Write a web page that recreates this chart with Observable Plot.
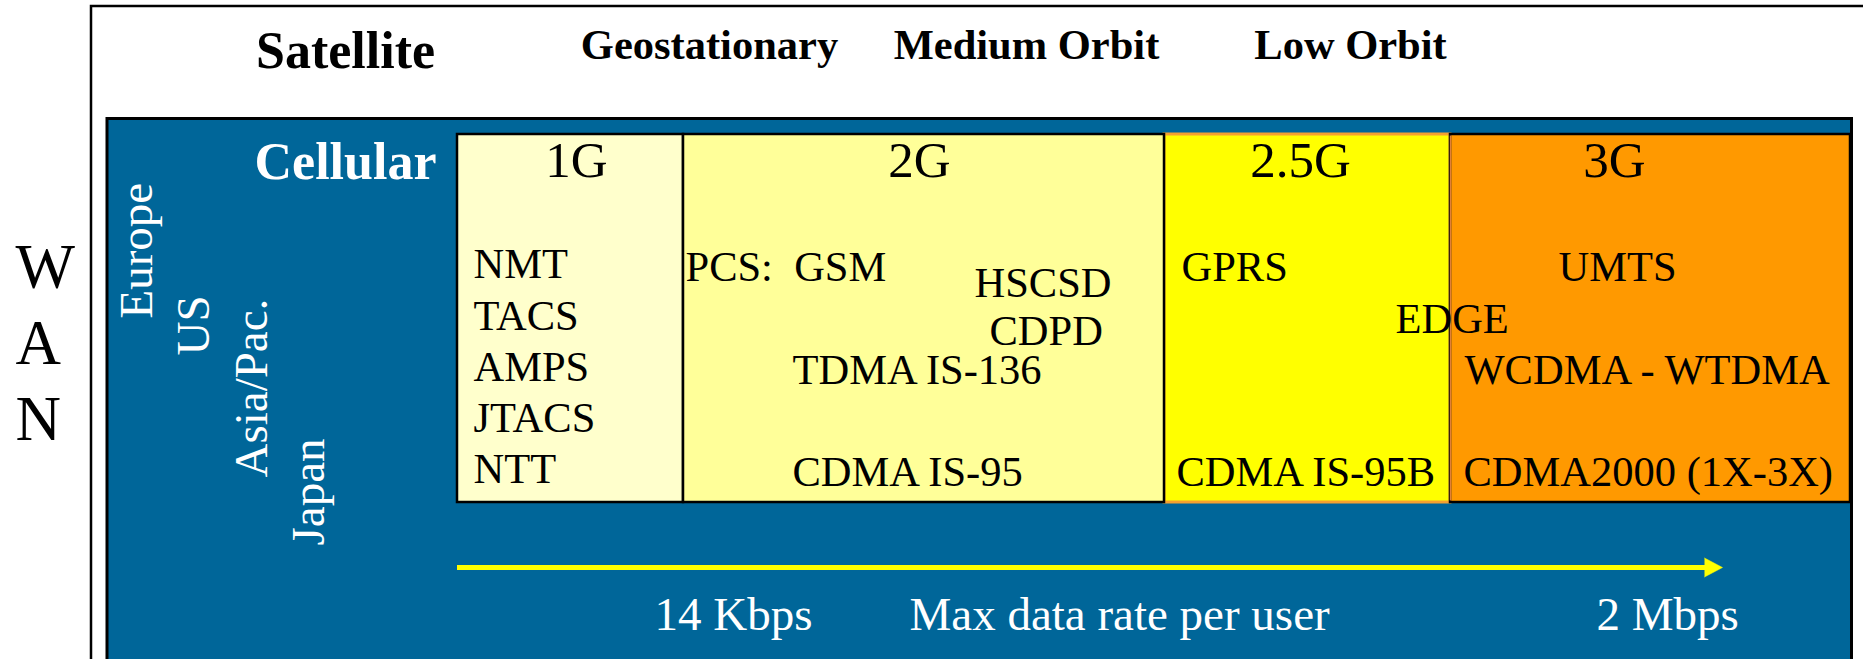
<!DOCTYPE html>
<html>
<head>
<meta charset="utf-8">
<script src="https://cdn.jsdelivr.net/npm/d3@7"></script>
<script src="https://cdn.jsdelivr.net/npm/@observablehq/plot@0.6"></script>
<style>
  html, body { margin: 0; padding: 0; background: #fff; overflow: hidden; }
  #chart svg { display: block; overflow: hidden; }
</style>
</head>
<body>
<div id="chart"></div>
<script>
// ---------- content ----------
const wanLetters = ["W", "A", "N"];
const satelliteHeading = ["Satellite"];
const orbitLabels = ["Geostationary", "Medium Orbit", "Low Orbit"];
const cellularHeading = ["Cellular"];
const regions = ["Europe", "US", "Asia/Pac.", "Japan"];
const generations = ["1G", "2G", "2.5G", "3G"];
const generationColors = ["#FFFFCC", "#FFFF99", "#FFFF00", "#FF9900"];
const technologies = [
  "NMT", "TACS", "AMPS", "JTACS", "NTT",
  "PCS:\u00a0 GSM", "HSCSD", "CDPD", "TDMA IS-136", "CDMA IS-95",
  "GPRS", "EDGE", "CDMA IS-95B",
  "UMTS", "WCDMA - WTDMA", "CDMA2000 (1X-3X)"
];
const techGeneration = [
  "1G", "1G", "1G", "1G", "1G",
  "2G", "2G", "2G", "2G", "2G",
  "2.5G", "2.5G", "2.5G",
  "3G", "3G", "3G"
];
const rateLabels = ["14 Kbps", "Max data rate per user", "2 Mbps"];

// ---------- layout (diagram coordinates, px) ----------
const W = 1863, H = 659;
const wanX = 15, wanBaselines = [287, 363, 439];
const satelliteX = [345], satelliteBaseline = 67;
const orbitX = [709, 1026, 1350], orbitBaseline = 58;
const cellularX = [345], cellularBaseline = 178;
const regionBaselineX = [151, 208, 266, 323];
const regionStartY = [318, 355, 477, 545];
const generationEdges = [457, 683, 1164, 1450, 1850];
const generationLabelX = [576, 919, 1300, 1614], generationLabelBaseline = 176;
const cellTop = 134, cellBottom = 502;
const techStartX = [473, 473, 473, 473, 473, 685, 974, 989, 792, 792, 1181, 1395, 1176, 1558, 1464, 1463];
const techBaseline = [277, 329, 380, 431, 482, 280, 296, 344, 383, 485, 280, 332, 485, 280, 383, 485];
const rateStartX = [654, 909, 1596], rateBaseline = 629;
const arrowStart = 457, arrowTip = 1722, arrowY = 567, arrowHeadLength = 18, arrowHeadHalf = 9.5;
const frameBox = [91, 6, 1905, 705];
const blueBox = [107, 118.5, 1851.5, 705];

const serif = "'Liberation Serif', 'Times New Roman', serif";

const cells = generations.map((g, i) => ({gen: g, x1: generationEdges[i], x2: generationEdges[i + 1]}));
const techData = technologies.map((t, i) => ({label: t, gen: techGeneration[i], x: techStartX[i], y: techBaseline[i]}));
const arrowHead = [
  {x: arrowTip - arrowHeadLength, y: arrowY - arrowHeadHalf},
  {x: arrowTip, y: arrowY},
  {x: arrowTip - arrowHeadLength, y: arrowY + arrowHeadHalf}
];

const chart = Plot.plot({
  width: W,
  height: H,
  margin: 0,
  x: {domain: [0, W], range: [0, W], axis: null},
  y: {domain: [0, H], range: [0, H], axis: null},
  color: {domain: generations, range: generationColors},
  style: {background: "#fff", overflow: "hidden"},
  marks: [
    // outer white frame
    Plot.rect([frameBox], {x1: d => d[0], y1: d => d[1], x2: d => d[2], y2: d => d[3], fill: "#fff", stroke: "#000", strokeWidth: 2.5}),
    // blue cellular panel
    Plot.rect([blueBox], {x1: d => d[0], y1: d => d[1], x2: d => d[2], y2: d => d[3], fill: "#006699", stroke: "#000", strokeWidth: 3}),
    // generation cells
    Plot.rect(cells.filter(d => d.gen === "2.5G"), {x1: "x1", x2: "x2", y1: () => cellTop, y2: () => cellBottom, fill: "gen", stroke: "#F5A030", strokeWidth: 3}),
    Plot.rect(cells.filter(d => d.gen !== "2.5G"), {x1: "x1", x2: "x2", y1: () => cellTop, y2: () => cellBottom, fill: "gen", stroke: "#000", strokeWidth: 2.5}),
    Plot.ruleX([generationEdges[3]], {y1: cellTop + 1.5, y2: cellBottom - 1.5, stroke: "#E0803A", strokeWidth: 1.5}),
    // WAN
    Plot.text(wanLetters, {x: () => wanX, y: (d, i) => wanBaselines[i], text: d => d, textAnchor: "start", lineAnchor: "bottom", fontSize: 63, fontFamily: serif, fill: "#000"}),
    // Satellite headings
    Plot.text(satelliteHeading, {x: (d, i) => satelliteX[i], y: () => satelliteBaseline, text: d => d, textAnchor: "middle", lineAnchor: "bottom", fontSize: 52, fontWeight: "bold", fontFamily: serif, fill: "#000"}),
    Plot.text(orbitLabels, {x: (d, i) => orbitX[i], y: () => orbitBaseline, text: d => d, textAnchor: "middle", lineAnchor: "bottom", fontSize: 42.5, fontWeight: "bold", fontFamily: serif, fill: "#000"}),
    // Cellular heading
    Plot.text(cellularHeading, {x: (d, i) => cellularX[i], y: () => cellularBaseline, text: d => d, textAnchor: "middle", lineAnchor: "bottom", fontSize: 52, fontWeight: "bold", fontFamily: serif, fill: "#fff"}),
    // regions (rotated)
    Plot.text(regions, {x: (d, i) => regionBaselineX[i], y: (d, i) => regionStartY[i], text: d => d, rotate: -90, textAnchor: "start", lineAnchor: "bottom", fontSize: 47, fontFamily: serif, fill: "#fff"}),
    // generation labels
    Plot.text(generations, {x: (d, i) => generationLabelX[i], y: () => generationLabelBaseline, text: d => d, textAnchor: "middle", lineAnchor: "bottom", fontSize: 51, fontFamily: serif, fill: "#000"}),
    // technologies
    Plot.text(techData, {x: "x", y: "y", text: "label", textAnchor: "start", lineAnchor: "bottom", fontSize: 42.5, fontFamily: serif, fill: "#000"}),
    // data-rate arrow
    Plot.ruleY([arrowY], {x1: arrowStart, x2: arrowTip - arrowHeadLength + 2, stroke: "#FFFF00", strokeWidth: 5}),
    Plot.line(arrowHead, {x: "x", y: "y", fill: "#FFFF00", stroke: "#FFFF00", strokeWidth: 0.5}),
    // rate labels
    Plot.text(rateLabels, {x: (d, i) => rateStartX[i], y: () => rateBaseline, text: d => d, textAnchor: "start", lineAnchor: "bottom", fontSize: 47, fontFamily: serif, fill: "#fff"})
  ]
});
document.getElementById("chart").appendChild(chart);
</script>
</body>
</html>
